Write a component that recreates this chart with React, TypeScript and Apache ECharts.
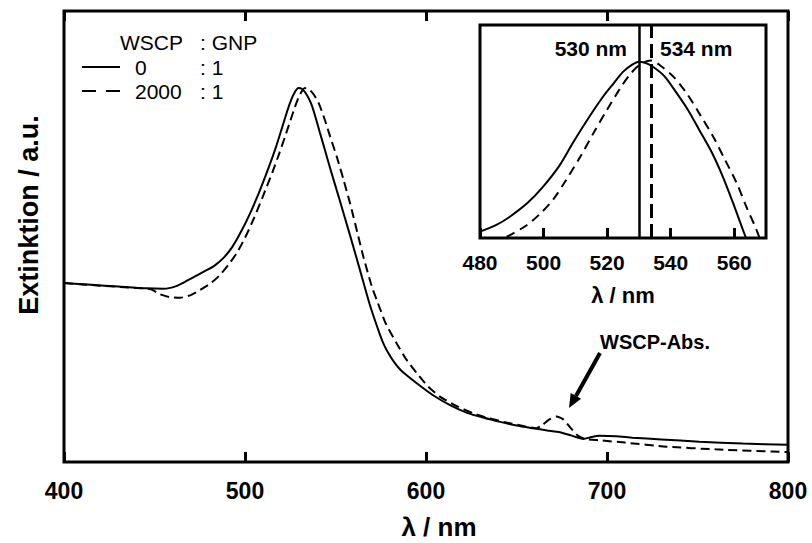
import React, { useEffect, useRef } from "react";
import * as echarts from "echarts";

// Main spectrum, WSCP:GNP = 0:1 (solid)
const solidLambda = [400, 415, 430, 445, 455, 462, 468, 474, 479, 483, 488, 493, 498, 503, 508, 513, 517, 520, 523, 525.5, 527.5, 529.5, 531.5, 534, 536.5, 539, 541.4, 544, 547, 552.5, 558, 563.5, 569, 574.6, 577, 580, 583, 586, 590, 596.7, 603.9, 613.3, 622.7, 632, 641, 650, 659, 667, 674, 680, 687, 691, 696, 705, 714, 730, 751, 775, 800];
const solidExt = [0.397, 0.393, 0.389, 0.385, 0.384, 0.39, 0.402, 0.415, 0.426, 0.435, 0.452, 0.477, 0.512, 0.553, 0.6, 0.652, 0.697, 0.735, 0.774, 0.803, 0.82, 0.829, 0.827, 0.815, 0.795, 0.764, 0.73, 0.694, 0.652, 0.578, 0.503, 0.426, 0.348, 0.282, 0.258, 0.236, 0.218, 0.204, 0.19, 0.169, 0.148, 0.126, 0.109, 0.098, 0.089, 0.081, 0.075, 0.07, 0.066, 0.059, 0.051, 0.055, 0.058, 0.057, 0.054, 0.05, 0.045, 0.041, 0.038];

// Main spectrum, WSCP:GNP = 2000:1 (dashed)
const dashedLambda = [400, 420, 440, 448, 453, 458, 464, 470, 475, 481, 486, 491, 495.4, 500, 505, 510, 515, 519, 522, 525, 527.5, 530, 533, 535.5, 538, 541, 544, 547, 550.7, 554.5, 558, 562, 565.4, 570, 572.8, 578, 583.8, 589, 594.9, 601, 607.7, 617, 626, 635, 645, 655, 661, 664, 668, 672, 676, 680, 684, 688, 696, 710, 733, 760, 800];
const dashedExt = [0.397, 0.391, 0.386, 0.383, 0.372, 0.366, 0.364, 0.37, 0.381, 0.396, 0.414, 0.438, 0.463, 0.497, 0.541, 0.59, 0.641, 0.685, 0.72, 0.756, 0.786, 0.812, 0.829, 0.826, 0.815, 0.793, 0.76, 0.722, 0.677, 0.625, 0.574, 0.51, 0.455, 0.39, 0.359, 0.305, 0.263, 0.228, 0.197, 0.168, 0.145, 0.124, 0.108, 0.097, 0.087, 0.079, 0.075, 0.081, 0.094, 0.101, 0.094, 0.075, 0.058, 0.051, 0.048, 0.043, 0.034, 0.028, 0.022];

// Inset (zoom on the plasmon peak)
const insetSolidLambda = [480, 485, 489.4, 495, 499.8, 505, 509.2, 514, 518.7, 522, 525, 528, 530, 532, 534.4, 538, 541.9, 545.5, 549, 553, 556.4, 560, 563.2, 565];
const insetSolidExt = [0.03, 0.06, 0.1, 0.165, 0.24, 0.34, 0.446, 0.56, 0.663, 0.725, 0.78, 0.815, 0.828, 0.822, 0.804, 0.76, 0.68, 0.6, 0.507, 0.4, 0.288, 0.15, 0.02, -0.05];
const insetDashedLambda = [484, 488.4, 494.7, 499, 503, 507, 511.5, 516, 519.9, 524, 527.3, 530, 532.5, 534, 536.7, 541, 545, 549, 553.4, 557, 560.8, 564, 566.6, 568, 570];
const insetDashedExt = [-0.02, 0.006, 0.06, 0.115, 0.18, 0.27, 0.38, 0.5, 0.6, 0.7, 0.77, 0.81, 0.83, 0.833, 0.81, 0.755, 0.68, 0.585, 0.475, 0.37, 0.257, 0.14, 0.053, 0.0, -0.08];

const peakSolid = 530;
const peakDashed = 534;

const mainTicks = { min: 400, max: 800, interval: 100 };
const insetTicks = { min: 480, max: 570, interval: 20 };

const zip = (xs: number[], ys: number[]) => xs.map((x, i) => [x, ys[i]]);

const FONT = '"Liberation Sans", Arial, sans-serif';

export default function App() {
  const ref = useRef<HTMLDivElement>(null);
  useEffect(() => {
    const chart = echarts.init(ref.current!, null, { renderer: "svg" });
    const tickStyle = { show: true, inside: true, length: 10, lineStyle: { color: "#000", width: 3 } };
    chart.setOption({
      animation: false,
      backgroundColor: "#fff",
      grid: [
        { left: 64, top: 11, width: 724, height: 451, show: true, borderColor: "#000", borderWidth: 3, backgroundColor: "transparent" },
        { left: 480, top: 25, width: 286, height: 213, show: true, borderColor: "#000", borderWidth: 3, backgroundColor: "#fff" },
      ],
      xAxis: [
        {
          gridIndex: 0, type: "value", position: "bottom", ...mainTicks,
          axisLine: { show: false }, axisTick: tickStyle, splitLine: { show: false },
          axisLabel: { color: "#000", fontSize: 23, fontWeight: "bold", fontFamily: FONT, margin: 17 },
        },
        {
          gridIndex: 0, type: "value", position: "top", ...mainTicks,
          axisLine: { show: false }, axisTick: tickStyle, splitLine: { show: false }, axisLabel: { show: false },
        },
        {
          gridIndex: 1, type: "value", position: "bottom", ...insetTicks,
          axisLine: { show: false }, axisTick: tickStyle, splitLine: { show: false },
          axisLabel: { color: "#000", fontSize: 21, fontWeight: "bold", fontFamily: FONT, margin: 14, showMaxLabel: false },
        },
      ],
      yAxis: [
        { gridIndex: 0, type: "value", min: 0, max: 1, axisLine: { show: false }, axisTick: { show: false }, axisLabel: { show: false }, splitLine: { show: false } },
        { gridIndex: 1, type: "value", min: 0, max: 1, axisLine: { show: false }, axisTick: { show: false }, axisLabel: { show: false }, splitLine: { show: false } },
      ],
      series: [
        {
          name: "0 : 1", type: "line", xAxisIndex: 0, yAxisIndex: 0, showSymbol: false, smooth: 0.2,
          lineStyle: { color: "#000", width: 2 }, data: zip(solidLambda, solidExt),
        },
        {
          name: "2000 : 1", type: "line", xAxisIndex: 0, yAxisIndex: 0, showSymbol: false, smooth: 0.2,
          lineStyle: { color: "#000", width: 2, type: [9, 5] }, data: zip(dashedLambda, dashedExt),
        },
        {
          name: "inset 0 : 1", type: "line", xAxisIndex: 2, yAxisIndex: 1, showSymbol: false, smooth: 0.3, clip: true,
          lineStyle: { color: "#000", width: 2 }, data: zip(insetSolidLambda, insetSolidExt),
          markLine: {
            silent: true, symbol: "none", label: { show: false },
            lineStyle: { color: "#000", width: 2.5, type: "solid" },
            data: [{ xAxis: peakSolid }],
          },
        },
        {
          name: "inset 2000 : 1", type: "line", xAxisIndex: 2, yAxisIndex: 1, showSymbol: false, smooth: 0.3, clip: true,
          lineStyle: { color: "#000", width: 2, type: [9, 6] }, data: zip(insetDashedLambda, insetDashedExt),
          markLine: {
            silent: true, symbol: "none", label: { show: false },
            lineStyle: { color: "#000", width: 3, type: [14, 6] },
            data: [{ xAxis: peakDashed }],
          },
        },
      ],
      graphic: [
        // axis titles
        { type: "text", x: 29, y: 215, rotation: Math.PI / 2, style: { text: "Extinktion / a.u.", fontSize: 27, fontWeight: "bold", fontFamily: FONT, fill: "#000", align: "center", verticalAlign: "middle" } },
        { type: "text", x: 439, y: 527, style: { text: "λ / nm", fontSize: 26, fontWeight: "bold", fontFamily: FONT, fill: "#000", align: "center", verticalAlign: "middle" } },
        { type: "text", x: 623, y: 295, z: 10, style: { text: "λ / nm", fontSize: 22, fontWeight: "bold", fontFamily: FONT, fill: "#000", align: "center", verticalAlign: "middle" } },
        // inset peak labels
        { type: "text", x: 627, y: 48, z: 10, style: { text: "530 nm", fontSize: 21, fontWeight: "bold", fontFamily: FONT, fill: "#000", align: "right", verticalAlign: "middle" } },
        { type: "text", x: 660, y: 48, z: 10, style: { text: "534 nm", fontSize: 21, fontWeight: "bold", fontFamily: FONT, fill: "#000", align: "left", verticalAlign: "middle" } },
        // legend
        { type: "text", x: 120, y: 42, style: { text: "WSCP", fontSize: 21, fontFamily: FONT, fill: "#000", align: "left", verticalAlign: "middle" } },
        { type: "text", x: 200, y: 42, style: { text: ": GNP", fontSize: 21, fontFamily: FONT, fill: "#000", align: "left", verticalAlign: "middle" } },
        { type: "line", shape: { x1: 82, y1: 67, x2: 120, y2: 67 }, style: { stroke: "#000", lineWidth: 2 } },
        { type: "text", x: 135, y: 67, style: { text: "0", fontSize: 21, fontFamily: FONT, fill: "#000", align: "left", verticalAlign: "middle" } },
        { type: "text", x: 200, y: 67, style: { text: ": 1", fontSize: 21, fontFamily: FONT, fill: "#000", align: "left", verticalAlign: "middle" } },
        { type: "line", shape: { x1: 82, y1: 91, x2: 120, y2: 91 }, style: { stroke: "#000", lineWidth: 2, lineDash: [14, 10] } },
        { type: "text", x: 135, y: 91, style: { text: "2000", fontSize: 21, fontFamily: FONT, fill: "#000", align: "left", verticalAlign: "middle" } },
        { type: "text", x: 200, y: 91, style: { text: ": 1", fontSize: 21, fontFamily: FONT, fill: "#000", align: "left", verticalAlign: "middle" } },
        // annotation
        { type: "text", x: 655, y: 342, style: { text: "WSCP-Abs.", fontSize: 20, fontWeight: "bold", fontFamily: FONT, fill: "#000", align: "center", verticalAlign: "middle" } },
        { type: "line", shape: { x1: 600, y1: 353, x2: 576, y2: 396 }, style: { stroke: "#000", lineWidth: 4 } },
        { type: "polygon", shape: { points: [[569, 408], [581.1, 398.7], [570.7, 392.9]] }, style: { fill: "#000" } },
      ],
    });
    return () => chart.dispose();
  }, []);
  return <div ref={ref} style={{ width: 812, height: 543, position: "absolute", left: 0, top: 0 }} />;
}
